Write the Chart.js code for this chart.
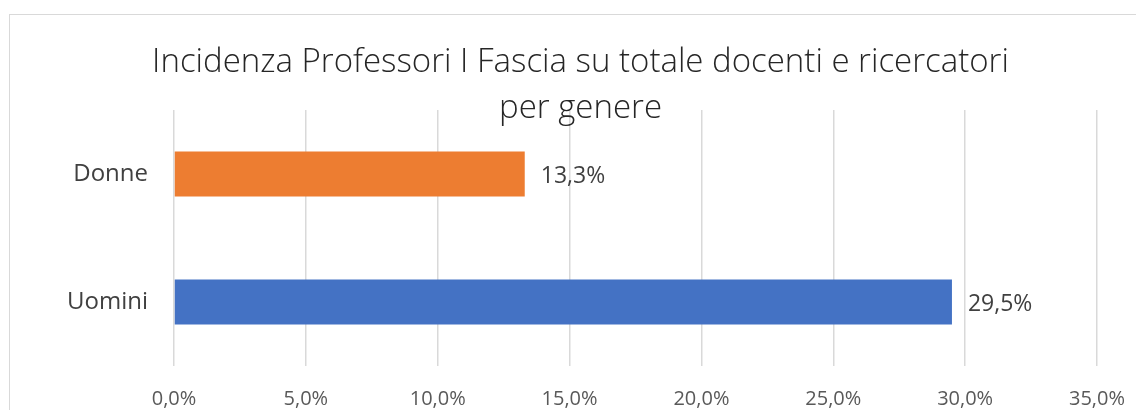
<!DOCTYPE html>
<html>
<head>
<meta charset="utf-8">
<script src="https://cdn.jsdelivr.net/npm/chart.js@4"></script>
<style>
  html, body { margin: 0; padding: 0; background: #fff; overflow: hidden; }
  #wrap { position: relative; width: 1136px; height: 410px; }
  #frame { position: absolute; left: 9px; top: 14px; width: 1200px; height: 500px; border: 1px solid #d9d9d9; }
  canvas { position: absolute; left: 0; top: 0; }
</style>
</head>
<body>
<div id="wrap">
  <div id="frame"></div>
  <canvas id="chart" width="1136" height="410"></canvas>
</div>
<script>
const categories = ["Donne", "Uomini"];
const values = [13.3, 29.5];
const titleLines = ["Incidenza Professori I Fascia su totale docenti e ricercatori", "per genere"];
const axisMin = 0;
const axisMax = 35;
const axisStep = 5;

const pct = (v) => v.toFixed(1).replace(".", ",") + "%";

const barLabels = {
	id: "barLabels",
	afterDatasetsDraw(chart) {
		const ctx = chart.ctx;
		ctx.save();
		ctx.font = "23px 'Open Sans'";
		ctx.fillStyle = "#404040";
		ctx.textAlign = "left";
		ctx.textBaseline = "middle";
		chart.getDatasetMeta(0).data.forEach((bar, i) => {
			ctx.fillText(pct(values[i]), bar.x + 16, bar.y + 2);
		});
		ctx.restore();
	},
};

window.onload = () => {
	const ctx = document.getElementById("chart").getContext("2d");

	new Chart(ctx, {
		type: "bar",
		data: {
			labels: categories,
			datasets: [
				{
					data: values,
					backgroundColor: ["#ED7D31", "#4472C4"],
					barPercentage: 0.352,
					categoryPercentage: 1,
				},
			],
		},
		options: {
			indexAxis: "y",
			responsive: false,
			animation: false,
			layout: { padding: { left: 64, right: 39, top: 0, bottom: 0 } },
			plugins: {
				legend: { display: false },
				tooltip: { enabled: false },
				title: {
					display: true,
					text: titleLines,
					color: "#262626",
					font: { family: "'Open Sans'", size: 33, weight: "300", lineHeight: 1.394 },
					padding: { top: 40, bottom: -22 },
				},
			},
			scales: {
				x: {
					min: axisMin,
					max: axisMax,
					ticks: {
						stepSize: axisStep,
						color: "#595959",
						padding: 11,
						font: { family: "'Open Sans'", size: 20, lineHeight: 2.2 },
						callback: (v) => pct(v),
					},
					grid: { color: "#d9d9d9", lineWidth: 1.5, drawTicks: false },
					border: { display: false },
					afterFit: (scale) => { scale.height = 44; },
				},
				y: {
					ticks: {
						color: "#404040",
						padding: 26,
						font: { family: "'Open Sans'", size: 24 },
					},
					grid: { display: false, drawTicks: false },
					border: { display: false },
					afterFit: (scale) => { scale.width = 110; },
				},
			},
		},
		plugins: [barLabels],
	});
};
</script>
</body>
</html>
